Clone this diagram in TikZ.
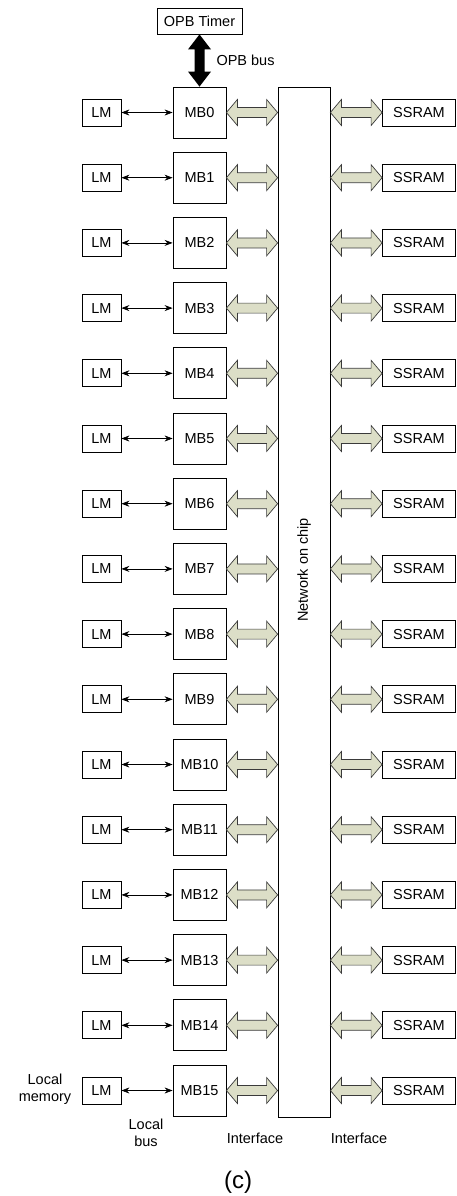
\documentclass[tikz,border=0pt]{standalone}
\usepackage{fontspec}
\setmainfont{Liberation Sans}
\usetikzlibrary{calc,arrows.meta}
\definecolor{Sage}{HTML}{DCDEC7}
\definecolor{Edge}{HTML}{3A3A3A}

\newcommand{\fatlink}[2]{%
  \draw[fat] let \p1=(#1), \p2=(#2) in
    (\x1,\y1) -- (\x1+11pt,\y1+13pt) -- (\x1+11pt,\y1+5pt) -- (\x2-11pt,\y1+5pt)
    -- (\x2-11pt,\y1+13pt) -- (\x2,\y1) -- (\x2-11pt,\y1-13pt) -- (\x2-11pt,\y1-5pt)
    -- (\x1+11pt,\y1-5pt) -- (\x1+11pt,\y1-13pt) -- cycle;}

\begin{document}
\begin{tikzpicture}[x=1pt,y=-1pt,
    box/.style={draw,line width=.8pt,inner sep=0pt,font=\fontsize{14.5}{17}\selectfont},
    lm/.style={box,minimum width=39pt,minimum height=27pt},
    mb/.style={box,minimum width=53pt,minimum height=51pt},
    sram/.style={box,minimum width=73pt,minimum height=27pt},
    txt/.style={align=center,font=\fontsize{14.5}{17}\selectfont},
    localbus/.style={line width=.7pt,{Stealth[length=8pt,width=6pt]}-{Stealth[length=8pt,width=6pt]}},
    fat/.style={draw=Edge,line width=.7pt,fill=Sage,line join=miter}
  ]
  \useasboundingbox (0,0) rectangle (456,1196);

  \node[box,minimum width=85pt,minimum height=26pt] (opb) at (199.5,21) {OPB Timer};
  \node[box,minimum width=52pt,minimum height=1030pt] (noc) at (304,602) {};
  \node[txt,rotate=90] (noctext) at (304,570) {Network on chip};

  \foreach \i in {0,...,15}{
    \pgfmathsetmacro\yy{112.5+65.2*\i}
    \node[lm] (lm\i) at (101.5,\yy) {LM};
    \node[mb] (mb\i) at (199.5,\yy) {MB\i};
    \node[sram] (sram\i) at (419,\yy) {SSRAM};
    \draw[localbus] (lm\i) -- (mb\i);
    \fatlink{mb\i.east}{noc.west |- mb\i}
    \fatlink{noc.east |- sram\i}{sram\i.west}
  }

  % OPB bus
  \fill let \p1=(opb.south), \p2=(mb0.north) in
    (\x1,\y1) -- (\x1+11.5pt,\y1-15pt) -- (\x1+5pt,\y1-15pt) -- (\x1+5pt,\y2+15pt)
    -- (\x1+11.5pt,\y2+15pt) -- (\x1,\y2) -- (\x1-11.5pt,\y2+15pt) -- (\x1-5pt,\y2+15pt)
    -- (\x1-5pt,\y1-15pt) -- (\x1-11.5pt,\y1-15pt) -- cycle;
  \node[txt,anchor=west] (opbbus) at (213,60) {OPB bus};

  % captions
  \node[txt] (localmem) at (45,1089) {Local\\memory};
  \node[txt] (localbus) at (146,1133) {Local\\bus};
  \node[txt] (ifleft) at (255,1138) {Interface};
  \node[txt] (ifright) at (359,1138) {Interface};
  \node[font=\fontsize{24}{26}\selectfont] (caption) at (238,1182) {(c)};
\end{tikzpicture}
\end{document}
